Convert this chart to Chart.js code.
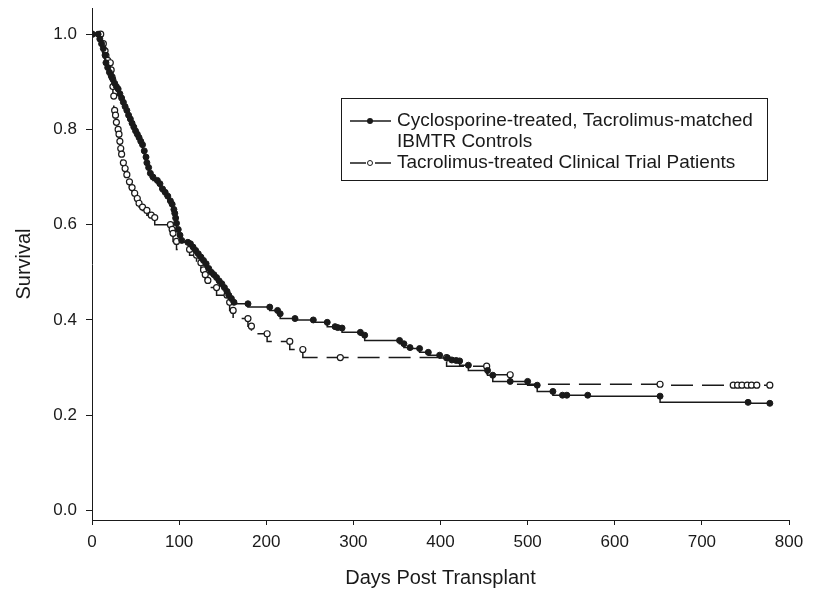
<!DOCTYPE html>
<html>
<head>
<meta charset="utf-8">
<script src="https://cdn.jsdelivr.net/npm/chart.js@4.4.1/dist/chart.umd.min.js"></script>
<style>
  html, body { margin: 0; background: #fff; }
  #wrap { width: 835px; height: 595px; position: relative; }
</style>
</head>
<body>
<div id="wrap"><canvas id="km"></canvas></div>
<script>
// Kaplan-Meier estimates (day, survival)
const cycloDays = [0, 7, 9, 11, 13, 15, 16, 18, 20, 22, 24, 26, 28, 30, 32, 34, 36, 38, 40, 42, 44, 46, 48, 50,
  52, 54, 56, 58, 60, 62, 63, 65, 67, 70, 75, 78, 81, 84, 87, 90, 92, 94, 95, 96, 97, 99, 101, 103, 110, 113,
  116, 119, 122, 125, 128, 131, 134, 137, 140, 143, 146, 149, 152, 155, 157, 160, 163, 179, 204, 213, 216, 233,
  254, 270, 279, 282, 287, 308, 313, 353, 358, 365, 376, 386, 399, 408, 413, 418, 422, 432, 454, 460, 480, 500,
  511, 529, 540, 545, 569, 652, 753, 778];
const cycloSurv = [1.0, 1.0, 0.99, 0.98, 0.97, 0.956, 0.94, 0.93, 0.92, 0.913, 0.905, 0.897, 0.89, 0.885, 0.875,
  0.866, 0.857, 0.848, 0.84, 0.83, 0.822, 0.813, 0.805, 0.797, 0.79, 0.783, 0.775, 0.768, 0.755, 0.742, 0.73,
  0.72, 0.708, 0.7, 0.693, 0.686, 0.675, 0.668, 0.66, 0.65, 0.643, 0.632, 0.624, 0.614, 0.603, 0.59, 0.578,
  0.567, 0.563, 0.56, 0.553, 0.546, 0.539, 0.532, 0.525, 0.518, 0.508, 0.5, 0.495, 0.489, 0.482, 0.476, 0.468,
  0.46, 0.452, 0.445, 0.437, 0.434, 0.427, 0.42, 0.413, 0.403, 0.4, 0.395, 0.386, 0.384, 0.383, 0.374, 0.368,
  0.357, 0.35, 0.342, 0.34, 0.332, 0.326, 0.32, 0.316, 0.315, 0.314, 0.305, 0.294, 0.284, 0.271, 0.271, 0.263,
  0.25, 0.242, 0.242, 0.242, 0.24, 0.227, 0.225];

const tacroDays = [0, 10, 13, 15, 16, 18, 21, 22, 23, 24, 25, 26, 27, 28, 30, 31, 32, 33, 34, 36, 38, 40, 43, 46,
  49, 52, 54, 58, 63, 68, 72, 90, 92, 93, 97, 112, 120, 125, 128, 130, 133, 143, 155, 158, 162, 179, 183, 201,
  227, 242, 285, 407, 453, 480, 652, 736, 741, 746, 752, 757, 763, 778];
const tacroSurv = [1.0, 1.0, 0.98, 0.965, 0.955, 0.945, 0.94, 0.925, 0.91, 0.89, 0.87, 0.84, 0.83, 0.815, 0.8,
  0.79, 0.775, 0.76, 0.748, 0.73, 0.718, 0.705, 0.69, 0.678, 0.666, 0.655, 0.645, 0.637, 0.63, 0.62, 0.615, 0.6,
  0.59, 0.582, 0.565, 0.548, 0.536, 0.52, 0.505, 0.495, 0.483, 0.468, 0.452, 0.437, 0.42, 0.403, 0.387, 0.371,
  0.355, 0.338, 0.321, 0.321, 0.303, 0.285, 0.265, 0.263, 0.263, 0.263, 0.263, 0.263, 0.263, 0.263];

const xTicks = [0, 100, 200, 300, 400, 500, 600, 700, 800];
const yTicks = [0.0, 0.2, 0.4, 0.6, 0.8, 1.0];

const seriesNames = ['Cyclosporine-treated, Tacrolimus-matched', 'IBMTR Controls'];
const seriesName2 = 'Tacrolimus-treated Clinical Trial Patients';

const ink = '#1a1a1a';
const font = 'Arial, "Liberation Sans", sans-serif';

function toPoints(days, surv) {
  return days.map((d, i) => ({ x: d, y: surv[i] }));
}

// legend box drawn by hand (two-line label)
const kmLegend = {
  id: 'kmLegend',
  afterDraw(chart) {
    const ctx = chart.ctx;
    ctx.save();
    ctx.strokeStyle = ink;
    ctx.lineWidth = 1;
    ctx.strokeRect(341.5, 98.5, 426, 82);

    // filled marker sample
    ctx.lineWidth = 1.5;
    ctx.beginPath();
    ctx.moveTo(350, 121);
    ctx.lineTo(391, 121);
    ctx.stroke();
    ctx.fillStyle = ink;
    ctx.beginPath();
    ctx.arc(370, 121, 3, 0, Math.PI * 2);
    ctx.fill();

    // open marker sample
    ctx.beginPath();
    ctx.moveTo(350, 163);
    ctx.lineTo(366, 163);
    ctx.moveTo(375, 163);
    ctx.lineTo(391, 163);
    ctx.stroke();
    ctx.fillStyle = '#fff';
    ctx.lineWidth = 1;
    ctx.beginPath();
    ctx.arc(370, 163, 2.5, 0, Math.PI * 2);
    ctx.fill();
    ctx.stroke();

    ctx.fillStyle = ink;
    ctx.font = '19px ' + font;
    ctx.textBaseline = 'middle';
    ctx.textAlign = 'left';
    ctx.fillText(seriesNames[0], 397, 121);
    ctx.fillText(seriesNames[1], 397, 142);
    ctx.fillText(seriesName2, 397, 163);
    ctx.restore();
  }
};

new Chart(document.getElementById('km'), {
  type: 'scatter',
  data: {
    datasets: [
      {
        label: seriesNames.join(' '),
        data: toPoints(cycloDays, cycloSurv),
        showLine: true,
        stepped: 'after',
        borderColor: ink,
        borderWidth: 1.5,
        pointRadius: 3,
        pointBackgroundColor: ink,
        pointBorderColor: ink,
        pointBorderWidth: 1
      },
      {
        label: seriesName2,
        data: toPoints(tacroDays, tacroSurv),
        showLine: true,
        stepped: 'after',
        borderColor: ink,
        borderWidth: 1.5,
        borderDash: [22, 9],
        pointRadius: 3,
        pointBackgroundColor: '#fff',
        pointBorderColor: ink,
        pointBorderWidth: 1.2
      }
    ]
  },
  options: {
    responsive: true,
    maintainAspectRatio: false,
    animation: false,
    layout: { padding: { top: 8, right: 46, left: 0, bottom: 0 } },
    plugins: { legend: { display: false }, tooltip: { enabled: false } },
    scales: {
      x: {
        type: 'linear',
        min: 0,
        max: 800,
        afterFit(s) { s.height = 75; s.paddingLeft = 0; s.paddingRight = 0; },
        afterBuildTicks(s) { s.ticks = xTicks.map(v => ({ value: v })); },
        grid: { display: true, drawOnChartArea: false, drawTicks: true, tickLength: 5, color: ink },
        border: { display: true, color: ink, width: 1 },
        ticks: { color: ink, font: { size: 17, family: font }, padding: 7, maxRotation: 0 },
        title: {
          display: true,
          text: 'Days Post Transplant',
          color: ink,
          font: { size: 20, family: font },
          padding: { top: 0, bottom: 5 }
        }
      },
      y: {
        type: 'linear',
        min: -0.02,
        max: 1.055,
        afterFit(s) { s.width = 92; s.paddingTop = 0; s.paddingBottom = 0; },
        afterBuildTicks(s) { s.ticks = yTicks.map(v => ({ value: v })); },
        grid: { display: true, drawOnChartArea: false, drawTicks: true, tickLength: 6, color: ink },
        border: { display: true, color: ink, width: 1 },
        ticks: { color: ink, font: { size: 17, family: font }, padding: 9, callback: v => v.toFixed(1) },
        title: {
          display: true,
          text: 'Survival',
          color: ink,
          font: { size: 20, family: font },
          padding: { top: 12, bottom: 0 }
        }
      }
    }
  },
  plugins: [kmLegend]
});
</script>
</body>
</html>
